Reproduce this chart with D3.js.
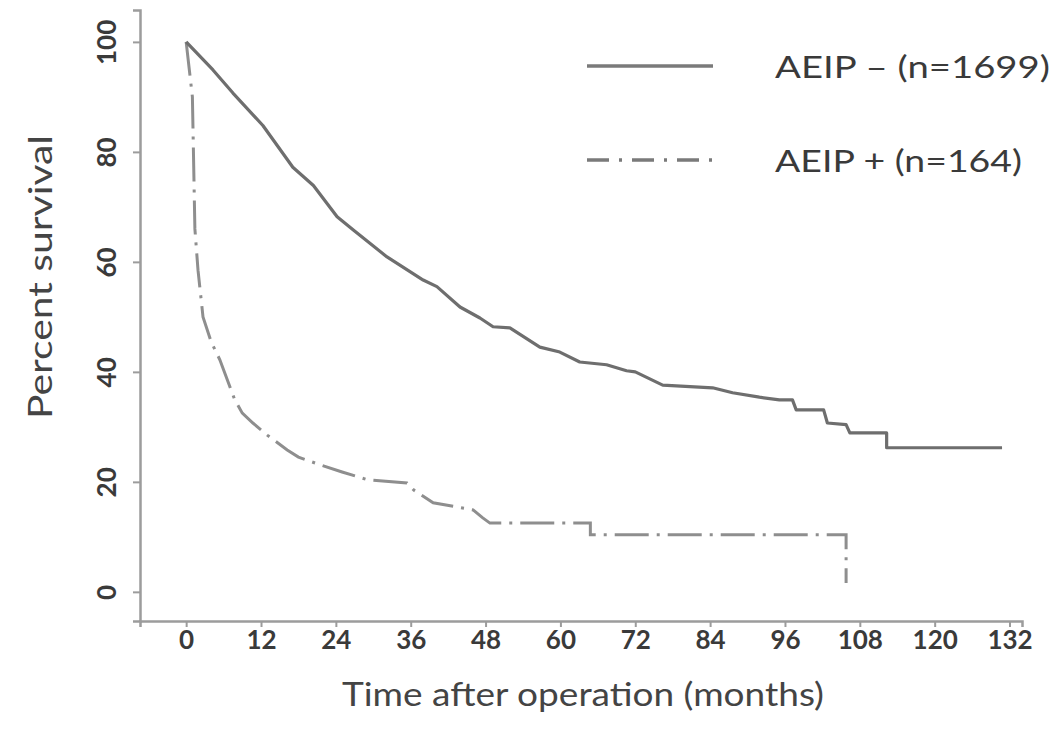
<!DOCTYPE html>
<html>
<head>
<meta charset="utf-8">
<script src="https://cdn.jsdelivr.net/npm/d3@7"></script>
<style>
  html, body { margin: 0; padding: 0; background: #fff; }
  svg { display: block; }
</style>
</head>
<body>
<svg id="chart" width="1058" height="749"></svg>
<script>
// ---- data ----
const xTicks = [0, 12, 24, 36, 48, 60, 72, 84, 96, 108, 120, 132];
const yTicks = [0, 20, 40, 60, 80, 100];

const negTime = [0, 4.3, 7.5, 12.3, 17.1, 20.4, 24.2, 26.8, 32.2, 38, 40.2, 43.9, 47.1, 49.2, 51.9, 56.7, 59.9, 63.1, 67.4, 70.6, 72, 76.4, 84.4, 87.6, 91.9, 95.1, 97.2, 97.8, 102.2, 102.8, 105.8, 106.4, 112.3, 112.3, 130.8];
const negSurv = [100, 94.9, 90.7, 84.8, 77.2, 73.9, 68.2, 65.8, 60.9, 56.7, 55.5, 51.8, 49.8, 48.2, 48, 44.5, 43.6, 41.8, 41.3, 40.2, 40, 37.6, 37.1, 36.2, 35.4, 34.9, 34.9, 33.1, 33.1, 30.7, 30.4, 28.9, 28.9, 26.2, 26.2];

const posTime = [0, 0.5, 1.0, 1.4, 1.9, 2.7, 4, 5.4, 7.8, 9, 10.7, 13, 16.2, 18, 21.5, 25, 29, 35.4, 36.5, 39.6, 46, 47.5, 48.7, 64.8, 64.8, 105.8, 105.8];
const posSurv = [100, 95, 90, 66, 58.5, 50, 45.5, 42.2, 34.9, 32.5, 30.7, 28.5, 25.8, 24.5, 23.1, 21.8, 20.4, 19.8, 18.5, 16.2, 14.9, 13.5, 12.5, 12.5, 10.4, 10.4, 1.6];

const seriesNames = ["AEIP \u2013 (n=1699)", "AEIP + (n=164)"];
const xTitle = "Time after operation  (months)";
const yTitle = "Percent survival";

// ---- layout ----
const svg = d3.select("#chart");
const x = d3.scaleLinear().domain([-7.4, 134]).range([140, 1022]);
const y = d3.scaleLinear().domain([-5.3, 105.8]).range([621, 10]);

const axisColor = "#9c9c9c";
const font = "Lato, 'Open Sans', sans-serif";

// x axis
const gx = svg.append("g").attr("transform", `translate(0,${y(-5.3)})`)
  .call(d3.axisBottom(x).tickValues(xTicks).tickSizeOuter(0).tickSize(6).tickPadding(4));
gx.select(".domain").attr("stroke", axisColor).attr("stroke-width", 2.5);
gx.selectAll(".tick line").attr("stroke", axisColor).attr("stroke-width", 2);
gx.selectAll(".tick text")
  .attr("font-family", font).attr("font-weight", "bold").attr("font-size", 26)
  .attr("fill", "#3a3a3a");

// y axis
const gy = svg.append("g").attr("transform", `translate(${x(-7.4)},0)`)
  .call(d3.axisLeft(y).tickValues(yTicks).tickSizeOuter(0).tickSize(7));
gy.select(".domain").attr("stroke", axisColor).attr("stroke-width", 2.5);
gy.selectAll(".tick line").attr("stroke", axisColor).attr("stroke-width", 2);
gy.selectAll(".tick text")
  .attr("font-family", font).attr("font-weight", "bold").attr("font-size", 26)
  .attr("fill", "#3a3a3a")
  .attr("text-anchor", "middle")
  .attr("dy", null).attr("x", null)
  .attr("transform", "translate(-34,0) rotate(-90)")
  .attr("dominant-baseline", "central");

// titles
svg.append("text")
  .attr("x", 583).attr("y", 706)
  .attr("text-anchor", "middle")
  .attr("font-family", font).attr("font-size", 33).attr("fill", "#444")
  .attr("textLength", 482).attr("lengthAdjust", "spacingAndGlyphs")
  .text(xTitle);

svg.append("text")
  .attr("transform", "translate(52,277) rotate(-90)")
  .attr("text-anchor", "middle")
  .attr("font-family", font).attr("font-size", 33).attr("fill", "#444")
  .attr("textLength", 284).attr("lengthAdjust", "spacingAndGlyphs")
  .text(yTitle);

// curves
const line = d3.line().x(d => x(d[0])).y(d => y(d[1])).curve(d3.curveLinear);
const negData = negTime.map((t, i) => [t, negSurv[i]]);
const posData = posTime.map((t, i) => [t, posSurv[i]]);

svg.append("path").datum(posData).attr("d", line)
  .attr("fill", "none").attr("stroke", "#8e8e8e").attr("stroke-width", 3)
  .attr("stroke-dasharray", "34,8,3,8");

svg.append("path").datum(negData).attr("d", line)
  .attr("fill", "none").attr("stroke", "#6e6e6e").attr("stroke-width", 3.2)
  .attr("stroke-linejoin", "round");

// legend
const legend = svg.append("g");
const legRows = [
  { name: seriesNames[0], yy: 66, len: 275, dash: null },
  { name: seriesNames[1], yy: 160, len: 247, dash: "22,10,3,10" }
];
legRows.forEach(r => {
  legend.append("line").attr("x1", 587).attr("x2", 713).attr("y1", r.yy).attr("y2", r.yy)
    .attr("stroke", "#7a7a7a").attr("stroke-width", 3.5)
    .attr("stroke-dasharray", r.dash);
  legend.append("text").attr("x", 775).attr("y", r.yy)
    .attr("dominant-baseline", "central")
    .attr("font-family", font).attr("font-size", 31).attr("fill", "#3a3a3a")
    .attr("textLength", r.len).attr("lengthAdjust", "spacingAndGlyphs")
    .text(r.name);
});
</script>
</body>
</html>
